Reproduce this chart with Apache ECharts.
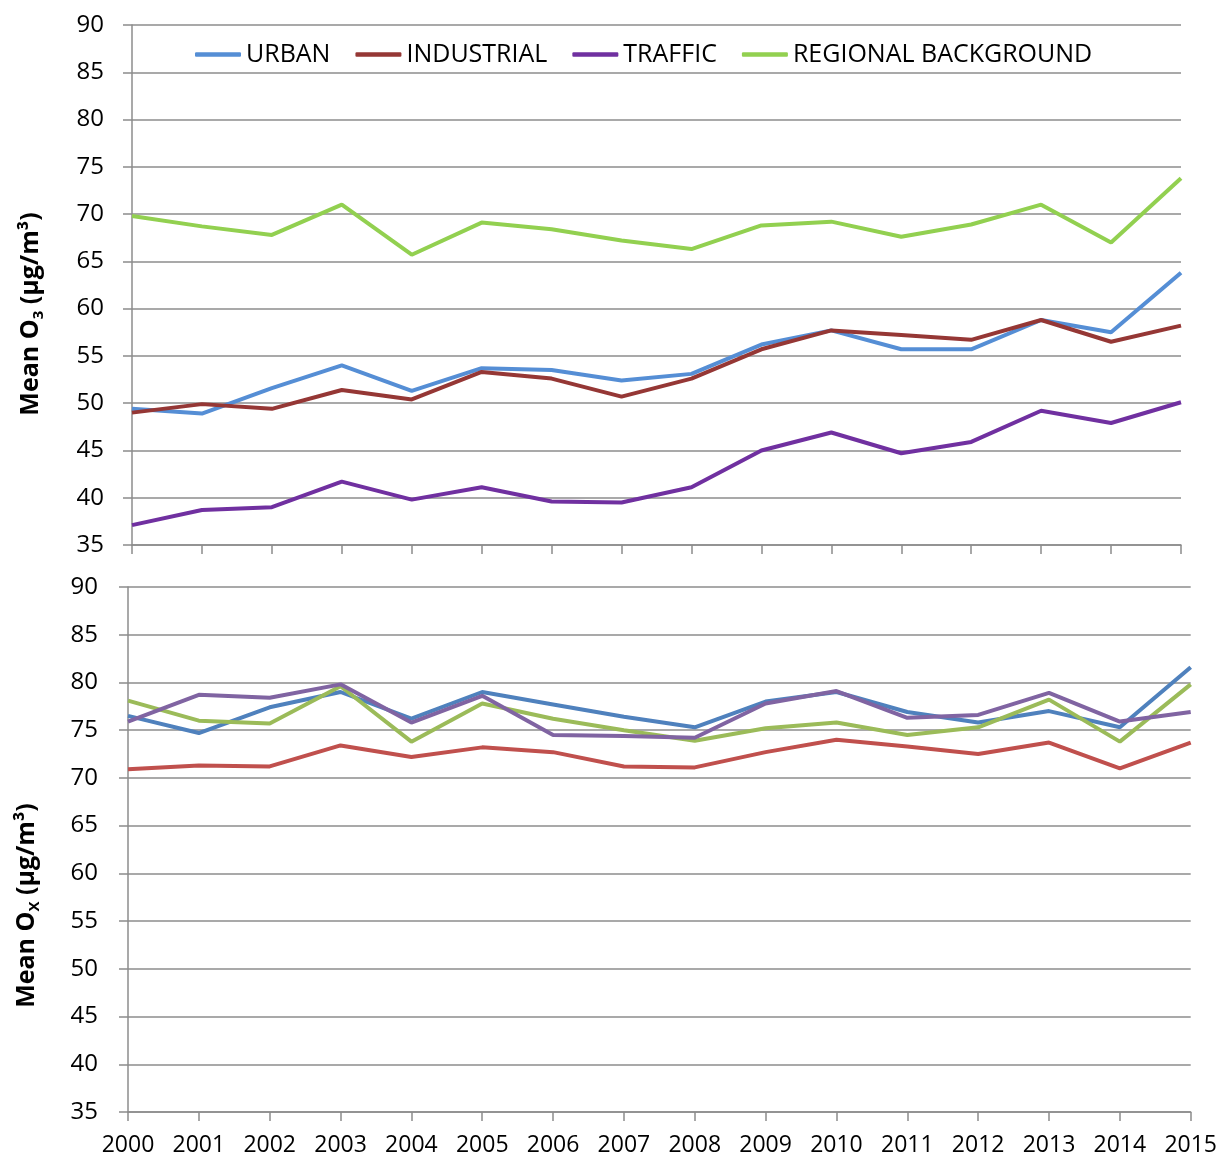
<!DOCTYPE html>
<html>
<head>
<meta charset="utf-8">
<script src="https://cdn.jsdelivr.net/npm/echarts@6/dist/echarts.min.js"></script>
<style>
  html, body { margin: 0; padding: 0; background: #fff; }
  #chart { width: 1220px; height: 1160px; }
</style>
</head>
<body>
<div id="chart"></div>
<script>
// years on the x axis
const years = ["2000", "2001", "2002", "2003", "2004", "2005", "2006", "2007",
  "2008", "2009", "2010", "2011", "2012", "2013", "2014", "2015"];

// mean O3 (top panel)
const o3Urban = [49.4, 48.9, 51.6, 54.0, 51.3, 53.7, 53.5, 52.4, 53.1, 56.2, 57.7, 55.7, 55.7, 58.8, 57.5, 63.8];
const o3Industrial = [49.0, 49.9, 49.4, 51.4, 50.4, 53.3, 52.6, 50.7, 52.6, 55.7, 57.7, 57.2, 56.7, 58.8, 56.5, 58.2];
const o3Traffic = [37.1, 38.7, 39.0, 41.7, 39.8, 41.1, 39.6, 39.5, 41.1, 45.0, 46.9, 44.7, 45.9, 49.2, 47.9, 50.1];
const o3Regional = [69.8, 68.7, 67.8, 71.0, 65.7, 69.1, 68.4, 67.2, 66.3, 68.8, 69.2, 67.6, 68.9, 71.0, 67.0, 73.8];

// mean Ox (bottom panel)
const oxUrban = [76.5, 74.7, 77.4, 79.0, 76.2, 79.0, 77.7, 76.4, 75.3, 78.0, 79.0, 76.9, 75.8, 77.0, 75.3, 81.6];
const oxIndustrial = [70.9, 71.3, 71.2, 73.4, 72.2, 73.2, 72.7, 71.2, 71.1, 72.7, 74.0, 73.3, 72.5, 73.7, 71.0, 73.7];
const oxRegional = [78.1, 76.0, 75.7, 79.6, 73.8, 77.8, 76.2, 75.0, 73.9, 75.2, 75.8, 74.5, 75.3, 78.2, 73.8, 79.8];
const oxTraffic = [75.9, 78.7, 78.4, 79.8, 75.8, 78.6, 74.5, 74.4, 74.2, 77.8, 79.1, 76.3, 76.6, 78.9, 75.9, 76.9];

const yTicks = { min: 35, max: 90, interval: 5 };

const FONT = "Open Sans";
const GRID_COLOR = "#8c8c8c";

const myChart = echarts.init(document.getElementById("chart"));

function xAxisOpt(gridIndex, showLabel) {
  return {
    type: "category",
    gridIndex: gridIndex,
    data: years,
    boundaryGap: false,
    axisLine: { lineStyle: { color: GRID_COLOR, width: 1.5 } },
    axisTick: { show: true, length: 9, interval: 0, lineStyle: { color: GRID_COLOR, width: 1.5 } },
    axisLabel: {
      show: showLabel,
      interval: 0,
      margin: 22,
      fontFamily: FONT,
      fontSize: 23,
      color: "#000",
    },
  };
}

function yAxisOpt(gridIndex, sub, labelMargin, namePad) {
  return {
    type: "value",
    gridIndex: gridIndex,
    min: yTicks.min,
    max: yTicks.max,
    interval: yTicks.interval,
    axisLine: { show: true, lineStyle: { color: GRID_COLOR, width: 1.5 } },
    axisTick: { show: true, length: 9, lineStyle: { color: GRID_COLOR, width: 1.5 } },
    splitLine: { lineStyle: { color: GRID_COLOR, width: 1.5 } },
    axisLabel: {
      margin: labelMargin,
      fontFamily: FONT,
      fontSize: 24,
      color: "#000",
    },
    name: "{a|Mean O}{s|" + sub + "}{a| (µg/m³)}",
    nameLocation: "middle",
    nameRotate: 90,
    nameGap: 86,
    nameTextStyle: {
      padding: [0, namePad, 0, 0],
      rich: {
        a: { fontFamily: FONT, fontWeight: "bold", fontSize: 25, lineHeight: 30, color: "#000" },
        s: { fontFamily: FONT, fontWeight: "bold", fontSize: 15, lineHeight: 16, verticalAlign: "bottom", color: "#000" },
      },
    },
  };
}

function line(name, data, color, idx) {
  return {
    name: name,
    type: "line",
    xAxisIndex: idx,
    yAxisIndex: idx,
    data: data,
    showSymbol: false,
    symbol: "none",
    lineStyle: { color: color, width: 4 },
    itemStyle: { color: color },
    emphasis: { disabled: true },
  };
}

myChart.setOption({
  animation: false,
  backgroundColor: "#fff",
  grid: [
    { left: 132, right: 39, top: 25, height: 520 },
    { left: 128, right: 27, top: 587, height: 525 },
  ],
  legend: {
    data: ["URBAN", "INDUSTRIAL", "TRAFFIC", "REGIONAL BACKGROUND"],
    left: 190,
    top: 37,
    icon: "roundRect",
    itemWidth: 46,
    itemHeight: 4.5,
    itemGap: 25,
    textStyle: { fontFamily: FONT, fontSize: 25, color: "#000" },
  },
  xAxis: [xAxisOpt(0, false), xAxisOpt(1, true)],
  yAxis: [yAxisOpt(0, "3", 28, 58), yAxisOpt(1, "X", 30, 112)],
  series: [
    line("URBAN", o3Urban, "#558ED5", 0),
    line("INDUSTRIAL", o3Industrial, "#953735", 0),
    line("TRAFFIC", o3Traffic, "#7030A0", 0),
    line("REGIONAL BACKGROUND", o3Regional, "#92D050", 0),
    line("URBAN Ox", oxUrban, "#4F81BD", 1),
    line("INDUSTRIAL Ox", oxIndustrial, "#C0504D", 1),
    line("REGIONAL BACKGROUND Ox", oxRegional, "#9BBB59", 1),
    line("TRAFFIC Ox", oxTraffic, "#8064A2", 1),
  ],
});

window.addEventListener("resize", () => {
  myChart.resize();
});
</script>
</body>
</html>
